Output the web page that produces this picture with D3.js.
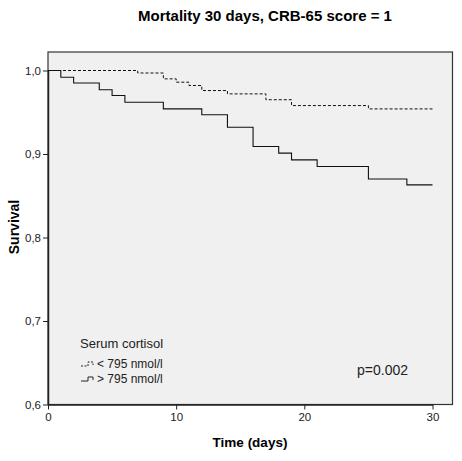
<!DOCTYPE html>
<html><head><meta charset="utf-8">
<script src="https://cdn.jsdelivr.net/npm/d3@7"></script>
<style>body{margin:0;background:#fff}svg{display:block}text{font-family:"Liberation Sans",Arial,sans-serif}</style>
</head><body>
<script>
const title = "Mortality 30 days, CRB-65 score = 1";
const xTicks = [0, 10, 20, 30];
const yTicks = [0.6, 0.7, 0.8, 0.9, 1.0];
const yTickLabels = ["0,6", "0,7", "0,8", "0,9", "1,0"];
const lowTimes = [0, 7, 9, 10, 11, 12, 14, 17, 19, 25, 30];
const lowSurv = [1.0, 0.997, 0.990, 0.986, 0.982, 0.976, 0.972, 0.965, 0.958, 0.954, 0.954];
const highTimes = [0, 1, 2, 4, 5, 6, 9, 12, 14, 16, 18, 19, 21, 25, 28, 30];
const highSurv = [1.0, 0.992, 0.985, 0.977, 0.970, 0.962, 0.954, 0.947, 0.932, 0.909, 0.901, 0.893, 0.885, 0.870, 0.863, 0.863];
const legendTitle = "Serum cortisol";
const legendLabels = ["< 795 nmol/l", "> 795 nmol/l"];
const pText = "p=0.002";

const W = 462, H = 461;
const svg = d3.select("body").append("svg").attr("width", W).attr("height", H);
const x = d3.scaleLinear().domain([0, 30]).range([48, 432.5]);
const y = d3.scaleLinear().domain([0.6, 1.0]).range([404.5, 70.5]);
const pLeft = x(0), pRight = x(31.56), pTop = 52, pBottom = y(0.6);

svg.append("rect").attr("x", pLeft).attr("y", pTop).attr("width", pRight - pLeft).attr("height", pBottom - pTop)
  .attr("fill", "#f0f0f0").attr("stroke", "#333").attr("stroke-width", 1.2);

const line = d3.line().x(d => x(d[0])).y(d => y(d[1])).curve(d3.curveStepAfter);
svg.append("path").datum(lowTimes.map((t, i) => [t, lowSurv[i]]))
  .attr("d", line).attr("fill", "none").attr("stroke", "#111").attr("stroke-width", 1).attr("stroke-dasharray", "3,2");
svg.append("path").datum(highTimes.map((t, i) => [t, highSurv[i]]))
  .attr("d", line).attr("fill", "none").attr("stroke", "#111").attr("stroke-width", 1.1);

// axes
const xAx = svg.append("g").attr("transform", `translate(0,${pBottom})`)
  .call(d3.axisBottom(x).tickValues(xTicks).tickSize(5).tickSizeOuter(0).tickPadding(3));
const yAx = svg.append("g").attr("transform", `translate(${pLeft},0)`)
  .call(d3.axisLeft(y).tickValues(yTicks).tickFormat((d, i) => yTickLabels[i]).tickSize(5).tickSizeOuter(0).tickPadding(2));
[xAx, yAx].forEach(g => {
  g.select(".domain").attr("stroke", "#222").attr("stroke-width", 1.5);
  g.selectAll(".tick line").attr("stroke", "#222");
  g.selectAll(".tick text").attr("font-size", 11.5).attr("fill", "#222").attr("font-family", "Liberation Sans, Arial, sans-serif");
});

svg.append("text").attr("x", 265).attr("y", 21).attr("text-anchor", "middle")
  .attr("font-size", 15).attr("font-weight", "bold").text(title);
svg.append("text").attr("x", 250).attr("y", 447).attr("text-anchor", "middle")
  .attr("font-size", 13.5).attr("font-weight", "bold").text("Time (days)");
svg.append("text").attr("transform", `translate(19,227) rotate(-90)`).attr("text-anchor", "middle")
  .attr("font-size", 14).attr("font-weight", "bold").text("Survival");

// legend
svg.append("text").attr("x", 80).attr("y", 348).attr("font-size", 13).attr("fill", "#222").text(legendTitle);
const legY = [364, 379];
legendLabels.forEach((lab, i) => {
  const yy = legY[i];
  svg.append("path").attr("d", `M81,${yy + 2}H88V${yy - 2}H93V${yy + 1}`)
    .attr("fill", "none").attr("stroke", "#222").attr("stroke-width", 1)
    .attr("stroke-dasharray", i === 0 ? "2,1.5" : null);
  svg.append("text").attr("x", 97).attr("y", yy + 4).attr("font-size", 12).attr("fill", "#222").text(lab);
});
svg.append("text").attr("x", 357).attr("y", 375).attr("font-size", 14).attr("fill", "#222").text(pText);
</script>
</body></html>
